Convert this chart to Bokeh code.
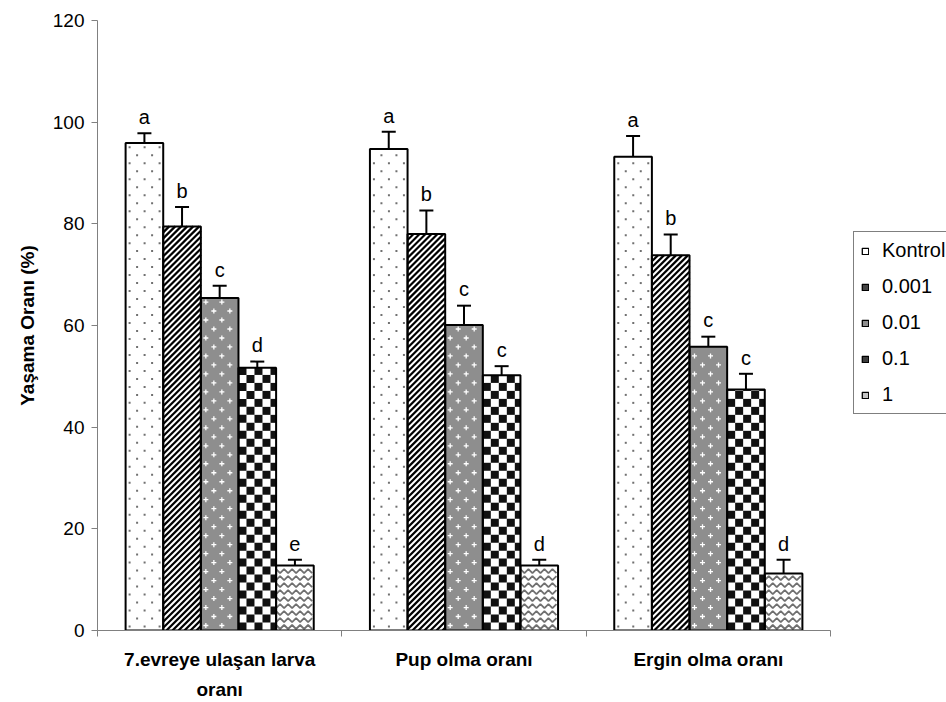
import math

from bokeh.plotting import figure
from bokeh.models import (ColumnDataSource, FixedTicker, Legend, LegendItem,
                          Whisker, TeeHead)
from bokeh.core.properties import value
from bokeh.embed import file_html
from bokeh.resources import INLINE

# --- data -------------------------------------------------------------
groups = ["7.evreye ulaşan larva\noranı", "Pup olma oranı", "Ergin olma oranı"]
doses = ["Kontrol", "0.001", "0.01", "0.1", "1"]

mean_kontrol = [95.9, 94.7, 93.2]
mean_0001 = [79.5, 78.0, 73.8]
mean_001 = [65.4, 60.1, 55.8]
mean_01 = [51.7, 50.2, 47.4]
mean_1 = [12.8, 12.8, 11.2]

err_kontrol = [1.9, 3.4, 4.1]
err_0001 = [3.8, 4.6, 4.1]
err_001 = [2.4, 3.8, 2.0]
err_01 = [1.2, 1.8, 3.1]
err_1 = [1.1, 1.1, 2.7]

letters_kontrol = ["a", "a", "a"]
letters_0001 = ["b", "b", "b"]
letters_001 = ["c", "c", "c"]
letters_01 = ["d", "c", "c"]
letters_1 = ["e", "d", "d"]

y_ticks = [0, 20, 40, 60, 80, 100, 120]

means = [mean_kontrol, mean_0001, mean_001, mean_01, mean_1]
errors = [err_kontrol, err_0001, err_001, err_01, err_1]
letters = [letters_kontrol, letters_0001, letters_001, letters_01, letters_1]

FONT = "Liberation Sans"
GREY = "#808080"

# --- layout (pixels) ---------------------------------------------------
FIG_W, FIG_H = 946, 702
BORDER_L, BORDER_T, BORDER_B = 97, 20, 71
AXIS_LEN_PX = 733           # length of the category axis
N_GROUPS = len(groups)
Y_MAX = 120

frame_w = FIG_W - BORDER_L
frame_h = FIG_H - BORDER_T - BORDER_B
px_x = N_GROUPS / AXIS_LEN_PX      # data units per pixel, horizontally
px_y = Y_MAX / frame_h             # data units per pixel, vertically
x_end = frame_w * px_x             # frame runs past the axis to hold the key

p = figure(width=FIG_W, height=FIG_H, x_range=(0, x_end), y_range=(0, Y_MAX),
           output_backend="svg", toolbar_location=None,
           min_border_left=BORDER_L, min_border_right=0,
           min_border_top=BORDER_T, min_border_bottom=BORDER_B)
p.outline_line_color = None
p.xgrid.visible = False
p.ygrid.visible = False
p.background_fill_color = "white"
p.border_fill_color = "white"

n_series = len(doses)
bar_w = 0.154
offsets = [(k - (n_series - 1) / 2) * bar_w for k in range(n_series)]
bar_x = [[g + 0.5 + offsets[k] for g in range(N_GROUPS)] for k in range(n_series)]
base_fill = ["white", "white", "#8e8e8e", "white", "white"]


def boxes(k):
    """(left edge in data units, width px, height px) of each bar of series k."""
    return [(xc - bar_w / 2, bar_w / px_x, top / px_y)
            for xc, top in zip(bar_x[k], means[k])]


# 1) bar fills
for k in range(n_series):
    p.vbar(x=bar_x[k], top=means[k], width=bar_w,
           fill_color=base_fill[k], line_color=None)

# 2) fill patterns, built from each bar's size
# Kontrol: staggered grey dots
dx, dy = [], []
for x0, w, h in boxes(0):
    r = 0
    while 4 + 8 * r < h - 2:
        xo = 4 + (r % 2) * 7.5
        while xo < w - 2:
            dx.append(x0 + xo * px_x)
            dy.append((4 + 8 * r) * px_y)
            xo += 15
        r += 1
p.scatter(dx, dy, marker="square", size=2, fill_color="#707070", line_color=None)

# 0.001: dense "/" hatching
sx0, sy0, sx1, sy1 = [], [], [], []
for x0, w, h in boxes(1):
    c = -h
    while c < w:
        xa, xb = max(0.0, c), min(w, h + c)
        if xb > xa:
            sx0.append(x0 + xa * px_x); sy0.append((xa - c) * px_y)
            sx1.append(x0 + xb * px_x); sy1.append((xb - c) * px_y)
        c += 6
p.segment(sx0, sy0, sx1, sy1, line_color="black", line_width=2.2)

# 0.01: grey ground with small white crosses
cx, cy = [], []
for x0, w, h in boxes(2):
    r = 0
    while 5 + 9 * r < h - 3:
        xo = 5 + (r % 2) * 8
        while xo < w - 3:
            cx.append(x0 + xo * px_x)
            cy.append((5 + 9 * r) * px_y)
            xo += 16
        r += 1
p.scatter(cx, cy, marker="cross", size=5, line_color="white", line_width=1.3)

# 0.1: checkerboard
ql, qr, qb, qt = [], [], [], []
cell = 8
for x0, w, h in boxes(3):
    for i in range(math.ceil(w / cell)):
        for j in range(math.ceil(h / cell)):
            if (i + j) % 2 == 0:
                ql.append(x0 + i * cell * px_x)
                qr.append(x0 + min((i + 1) * cell, w) * px_x)
                qb.append(j * cell * px_y)
                qt.append(min((j + 1) * cell, h) * px_y)
p.quad(left=ql, right=qr, bottom=qb, top=qt, fill_color="#111111", line_color=None)

# 1: herringbone weave (chevrons that flip direction every row)
mx, my = [], []
for x0, w, h in boxes(4):
    r = 0
    while 7 * r + 6 < h:
        xs, ys = [], []
        xo, n = 0.0, 0
        while xo <= w:
            up = (n + r) % 2 == 0
            xs.append(x0 + xo * px_x)
            ys.append((7 * r + (5.5 if up else 1.5)) * px_y)
            xo += 4
            n += 1
        mx.append(xs)
        my.append(ys)
        r += 1
p.multi_line(mx, my, line_color="#707070", line_width=1.8)

# 3) bar outlines, error bars and letters
for k in range(n_series):
    upper = [m + e for m, e in zip(means[k], errors[k])]
    src = ColumnDataSource(dict(
        x=bar_x[k], top=means[k], upper=upper,
        label_y=[u + 3.2 for u in upper],
        letter=letters[k],
    ))
    p.vbar(x="x", top="top", width=bar_w, source=src,
           fill_color=None, line_color="black", line_width=2)
    p.add_layout(Whisker(source=src, base="x", lower="top", upper="upper",
                         line_color="black", line_width=2, lower_head=None,
                         upper_head=TeeHead(size=14, line_color="black", line_width=2)))
    p.text(x="x", y="label_y", text="letter", source=src,
           text_align="center", text_baseline="alphabetic",
           text_font=value(FONT), text_font_size="20px", text_color="black")

# --- axes --------------------------------------------------------------
# category boundaries carry the (minor) tick marks; labels sit at the centres
p.xaxis.bounds = (0, N_GROUPS)
p.xaxis.ticker = FixedTicker(ticks=[g + 0.5 for g in range(N_GROUPS)],
                             minor_ticks=list(range(N_GROUPS + 1)))
p.xaxis.major_label_overrides = {g + 0.5: lab for g, lab in enumerate(groups)}
p.xaxis.major_tick_line_color = None
p.xaxis.major_tick_out = 0
p.xaxis.major_tick_in = 0
p.xaxis.minor_tick_line_color = GREY
p.xaxis.minor_tick_out = 6
p.xaxis.minor_tick_in = 0
p.xaxis.axis_line_color = GREY
p.xaxis.major_label_standoff = 12
p.xaxis.major_label_text_font = FONT
p.xaxis.major_label_text_font_size = "19px"
p.xaxis.major_label_text_font_style = "bold"
p.xaxis.major_label_text_color = "black"
p.xaxis.major_label_text_line_height = 1.45

p.yaxis.ticker = FixedTicker(ticks=y_ticks)
p.yaxis.axis_line_color = GREY
p.yaxis.major_tick_line_color = GREY
p.yaxis.major_tick_out = 6
p.yaxis.major_tick_in = 0
p.yaxis.minor_tick_line_color = None
p.yaxis.major_label_standoff = 7
p.yaxis.major_label_text_font = FONT
p.yaxis.major_label_text_font_size = "19px"
p.yaxis.major_label_text_color = "black"
p.yaxis.axis_label = "Yaşama Oranı (%)"
p.yaxis.axis_label_text_font = FONT
p.yaxis.axis_label_text_font_size = "19px"
p.yaxis.axis_label_text_font_style = "bold"
p.yaxis.axis_label_text_color = "black"
p.yaxis.axis_label_standoff = 12

# --- key ---------------------------------------------------------------
# one swatch renderer per dose; a NaN bar gives the swatch its style
# without drawing anything in the plot area
key_fill = ["white", "#454545", "#8e8e8e", "#3c3c3c", "#c4c4c4"]
key_items = []
for d, fc in zip(doses, key_fill):
    kr = p.vbar(x=[float("nan")], top=[float("nan")], width=bar_w,
                fill_color=fc, line_color="black", line_width=1.3)
    key_items.append(LegendItem(label=d, renderers=[kr]))

legend = Legend(
    items=key_items,
    location=(853 - BORDER_L, 216),
    border_line_color="black", border_line_width=1,
    background_fill_color="white", background_fill_alpha=1,
    padding=7, spacing=13, margin=0,
    glyph_width=8, glyph_height=8, label_height=20, label_standoff=13,
    label_text_font=FONT, label_text_font_size="20px",
    label_text_color="black", label_text_baseline="middle",
)
p.add_layout(legend)

open("out.html", "w").write(file_html(p, INLINE))
